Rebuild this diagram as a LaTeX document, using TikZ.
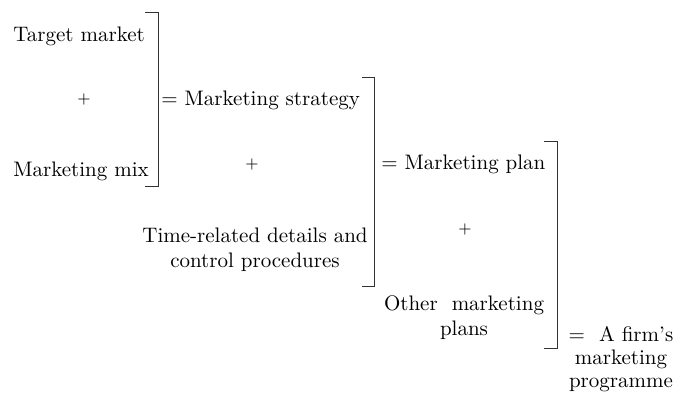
\documentclass[tikz,border=0pt]{standalone}
\usepackage{amsmath}
\usepackage{xcolor}

\begin{document}
\begin{tikzpicture}[x=0.5pt,y=-0.5pt,
    every node/.style={inner sep=0pt,font=\fontsize{10.5}{12.5}\selectfont},
    plus/.style={font=\fontsize{8}{10}\selectfont},
    brace/.style={line width=0.5pt,black!80}]
\useasboundingbox (0,0) rectangle (685,394);

% first step: target market + mix
\node[anchor=base west] (target) at (13,42) {Target market};
\node[plus] (plusA) at (84,100) {+};
\node[anchor=base west] (mix) at (13,177) {Marketing mix};

\coordinate (br1t) at (158,13);
\coordinate (br1b) at (158,187);
\draw[brace] (br1t) ++(-13,0) -- (br1t) -- (br1b) -- ++(-13,0);
\node[anchor=base west] (strategy) at (161,106) {= Marketing strategy};

% second step: strategy + details
\node[plus] (plusB) at (252,165) {+};
\node[align=center] (details) at (255,250) {Time-related details and\\control procedures};

\coordinate (br2t) at (374,78);
\coordinate (br2b) at (374,287);
\draw[brace] (br2t) ++(-12,0) -- (br2t) -- (br2b) -- ++(-12,0);
\node[anchor=base west] (plan) at (381,170) {= Marketing plan};

% third step: plan + other plans
\node[plus] (plusC) at (465,230) {+};
\node[align=center] (other) at (464,318) {Other\ \ marketing\\plans};

\coordinate (br3t) at (557,142);
\coordinate (br3b) at (557,349);
\draw[brace] (br3t) ++(-13,0) -- (br3t) -- (br3b) -- ++(-13,0);
\node[align=center,font=\fontsize{10.5}{11.5}\selectfont] (programme) at (621,359) {=\ \ A firm's\\marketing\\programme};
\end{tikzpicture}
\end{document}
